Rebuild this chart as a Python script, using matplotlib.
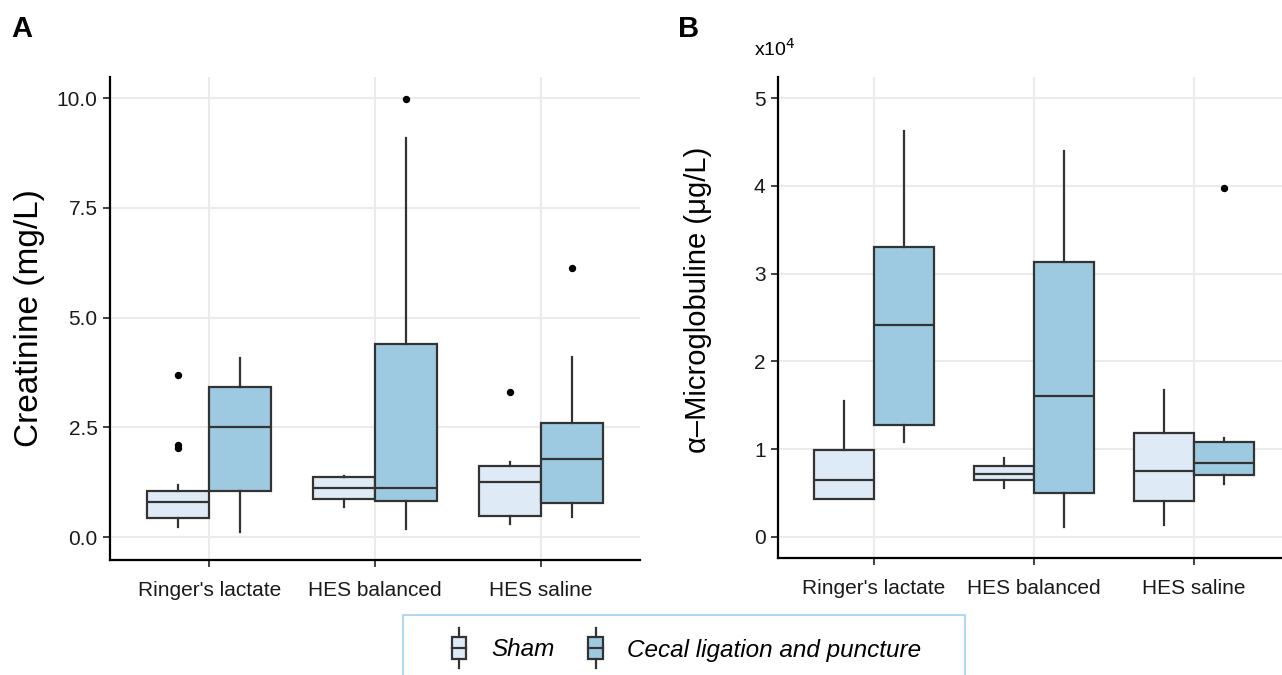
import matplotlib
matplotlib.use('Agg')
import matplotlib.pyplot as plt
from matplotlib.legend_handler import HandlerBase
from matplotlib.patches import Rectangle
from matplotlib.lines import Line2D

plt.rcParams['font.family'] = ['Liberation Sans', 'DejaVu Sans']

categories = ["Ringer's lactate", "HES balanced", "HES saline"]
groups = ["Sham", "Cecal ligation and puncture"]
group_colors = ["#deebf7", "#9ecae1"]

# Panel A: Creatinine (mg/L)
crea_sham_q1 = [0.43, 0.87, 0.49]
crea_sham_med = [0.79, 1.13, 1.26]
crea_sham_q3 = [1.05, 1.36, 1.62]
crea_sham_lo = [0.23, 0.68, 0.31]
crea_sham_hi = [1.18, 1.40, 1.72]
crea_sham_out = [[3.69, 2.10, 2.03], [], [3.30]]

crea_clp_q1 = [1.05, 0.83, 0.77]
crea_clp_med = [2.52, 1.13, 1.77]
crea_clp_q3 = [3.41, 4.40, 2.60]
crea_clp_lo = [0.11, 0.18, 0.45]
crea_clp_hi = [4.08, 9.09, 4.11]
crea_clp_out = [[], [9.98], [6.13]]

# Panel B: alpha-Microglobuline (x10^4 ug/L)
micro_sham_q1 = [0.43, 0.65, 0.41]
micro_sham_med = [0.65, 0.72, 0.75]
micro_sham_q3 = [0.99, 0.81, 1.18]
micro_sham_lo = [0.43, 0.56, 0.14]
micro_sham_hi = [1.55, 0.90, 1.67]
micro_sham_out = [[], [], []]

micro_clp_q1 = [1.28, 0.50, 0.70]
micro_clp_med = [2.42, 1.61, 0.84]
micro_clp_q3 = [3.30, 3.13, 1.08]
micro_clp_lo = [1.08, 0.11, 0.60]
micro_clp_hi = [4.63, 4.40, 1.13]
micro_clp_out = [[], [], [3.97]]

crea_ticks = [0.0, 2.5, 5.0, 7.5, 10.0]
crea_ticklabels = ["0.0", "2.5", "5.0", "7.5", "10.0"]
micro_ticks = [0, 1, 2, 3, 4, 5]
micro_ticklabels = ["0", "1", "2", "3", "4", "5"]

EDGE = '#333333'
LW = 1.6


def make_stats(q1, med, q3, lo, hi, out):
    return [dict(q1=a, med=b, q3=c, whislo=d, whishi=e, fliers=f)
            for a, b, c, d, e, f in zip(q1, med, q3, lo, hi, out)]


W, H = 1282, 675
fig = plt.figure(figsize=(W / 100, H / 100), dpi=100)
axA = fig.add_axes([110 / W, 1 - 560 / H, 530 / W, 483 / H])
axB = fig.add_axes([778 / W, 1 - 558 / H, 512 / W, 481 / H])


def draw(ax, sham, clp, ylim, ticks, ticklabels):
    ax.set_axisbelow(True)
    for stats, off, col in ((sham, -0.1875, group_colors[0]), (clp, 0.1875, group_colors[1])):
        pos = [i + 1 + off for i in range(len(categories))]
        ax.bxp(stats, positions=pos, widths=0.375, patch_artist=True, showcaps=False,
               boxprops=dict(facecolor=col, edgecolor=EDGE, linewidth=LW),
               medianprops=dict(color=EDGE, linewidth=LW),
               whiskerprops=dict(color=EDGE, linewidth=LW),
               flierprops=dict(marker='o', markerfacecolor='black', markeredgecolor='black',
                               markersize=4.3),
               manage_ticks=False)
    ax.set_xlim(0.4, 3.6)
    ax.set_ylim(*ylim)
    ax.set_xticks([1, 2, 3])
    ax.set_xticklabels(categories)
    ax.set_yticks(ticks)
    ax.set_yticklabels(ticklabels)
    ax.grid(True, color='#ebebeb', linewidth=1.5)
    for s in ('top', 'right'):
        ax.spines[s].set_visible(False)
    for s in ('left', 'bottom'):
        ax.spines[s].set_color('black')
        ax.spines[s].set_linewidth(1.6)
    ax.tick_params(axis='both', direction='out', length=5, width=1.3, color='#333333',
                   labelsize=15, labelcolor='#1a1a1a', pad=4)
    ax.tick_params(axis='x', pad=10)


draw(axA, make_stats(crea_sham_q1, crea_sham_med, crea_sham_q3, crea_sham_lo, crea_sham_hi, crea_sham_out),
     make_stats(crea_clp_q1, crea_clp_med, crea_clp_q3, crea_clp_lo, crea_clp_hi, crea_clp_out),
     (-0.52, 10.48), crea_ticks, crea_ticklabels)
draw(axB, make_stats(micro_sham_q1, micro_sham_med, micro_sham_q3, micro_sham_lo, micro_sham_hi, micro_sham_out),
     make_stats(micro_clp_q1, micro_clp_med, micro_clp_q3, micro_clp_lo, micro_clp_hi, micro_clp_out),
     (-0.24, 5.24), micro_ticks, micro_ticklabels)

fig.text(30 / W, 1 - 318 / H, "Creatinine (mg/L)", rotation=90, ha='center', va='center', fontsize=24)
fig.text(698 / W, 1 - 300 / H, "\u03b1\u2013Microglobuline (\u03bcg/L)", rotation=90,
         ha='center', va='center', fontsize=21)
fig.text(11 / W, 1 - 29 / H, "A", fontsize=21, fontweight='bold', va='center', ha='left')
fig.text(678 / W, 1 - 29 / H, "B", fontsize=21, fontweight='bold', va='center', ha='left')
fig.text(754 / W, 1 - 49 / H, r"x10$^4$", fontsize=14, va='center', ha='left')


class BoxGlyph(HandlerBase):
    def create_artists(self, legend, orig_handle, xdescent, ydescent, width, height, fontsize, trans):
        cx = width / 2 - xdescent
        cy = height / 2 - ydescent
        bw = width * 0.85
        bh = height * 1.35
        rect = Rectangle((cx - bw / 2, cy - bh / 2), bw, bh, facecolor=orig_handle,
                         edgecolor=EDGE, linewidth=LW, transform=trans)
        med = Line2D([cx - bw / 2, cx + bw / 2], [cy, cy], color=EDGE, lw=LW, transform=trans)
        up = Line2D([cx, cx], [cy + bh / 2, cy + bh / 2 + height * 0.5], color=EDGE, lw=LW, transform=trans)
        dn = Line2D([cx, cx], [cy - bh / 2, cy - bh / 2 - height * 0.5], color=EDGE, lw=LW, transform=trans)
        return [rect, med, up, dn]


fig.legend(group_colors, groups, handler_map={str: BoxGlyph()},
           loc='center', bbox_to_anchor=(686 / W, 1 - 650 / H), frameon=False, ncol=2,
           prop=dict(style='italic', size=17.5), handlelength=0.7, handletextpad=0.95,
           columnspacing=1.35)
fig.add_artist(Rectangle((403 / W, -0.05), (965 - 403) / W, (1 - 615 / H) + 0.05,
                         transform=fig.transFigure, fill=False, edgecolor='#a8d5ee', lw=1.3))

fig.savefig('out.png', dpi=100)
